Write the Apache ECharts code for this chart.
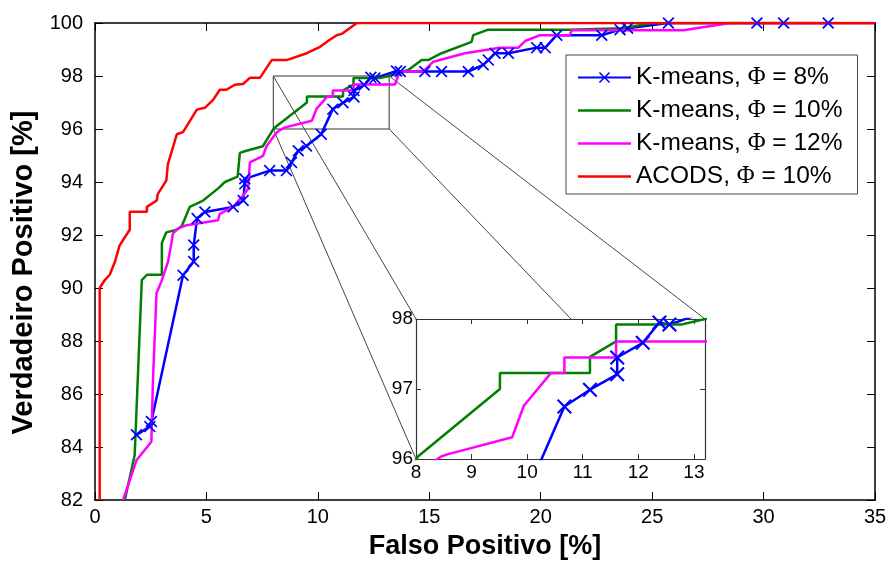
<!DOCTYPE html>
<html>
<head>
<meta charset="utf-8">
<script src="https://cdn.jsdelivr.net/npm/echarts@6/dist/echarts.min.js"></script>
<style>
  html, body { margin: 0; padding: 0; background: #fff; }
  #chart { width: 891px; height: 565px; }
</style>
</head>
<body>
<div id="chart"></div>
<script>
// ROC curves: true positive rate vs false positive rate (%)
const kmeans8FP  = [1.86, 2.46, 2.53, 3.95, 4.43, 4.43, 4.58, 4.93, 6.2, 6.65, 6.72, 6.72, 7.84, 8.59, 8.82, 9.12, 9.49, 10.15, 10.67, 11.13, 11.62, 11.62, 12.08, 12.38, 12.56, 13.53, 13.7, 14.8, 15.55, 16.75, 17.42, 17.65, 17.95, 18.55, 19.82, 20.2, 20.72, 22.74, 23.56, 23.9, 25.73, 29.7, 30.9, 32.9];
const kmeans8VP  = [84.46, 84.77, 84.96, 90.48, 91.0, 91.62, 92.62, 92.87, 93.06, 93.3, 93.93, 94.12, 94.43, 94.43, 94.74, 95.18, 95.36, 95.8, 96.75, 96.99, 97.21, 97.45, 97.66, 97.95, 97.92, 98.19, 98.17, 98.17, 98.17, 98.17, 98.42, 98.6, 98.86, 98.86, 99.07, 99.07, 99.54, 99.54, 99.75, 99.8, 100, 100, 100, 100];

const kmeans10FP = [1.34, 1.78, 2.1, 2.33, 3.0, 3.0, 3.2, 3.67, 3.9, 4.25, 4.85, 5.5, 5.83, 6.4, 6.5, 6.72, 7.53, 8.04, 9.51, 9.51, 11.13, 11.13, 11.6, 11.6, 12.77, 13.2, 14.06, 14.66, 14.95, 15.55, 16.9, 16.97, 17.65, 21.3, 23.7, 25.0, 35];
const kmeans10VP = [82, 83.7, 90.3, 90.5, 90.5, 91.7, 92.1, 92.2, 92.35, 93.06, 93.3, 93.74, 94.0, 94.2, 95.1, 95.16, 95.35, 96.04, 97.0, 97.23, 97.23, 97.46, 97.68, 97.92, 97.92, 98.0, 98.23, 98.6, 98.6, 98.86, 99.29, 99.54, 99.75, 99.75, 99.8, 100, 100];

const kmeans12FP = [1.26, 1.86, 2.53, 2.6, 2.76, 2.98, 3.28, 3.43, 3.5, 3.73, 4.1, 5.52, 5.6, 6.2, 6.65, 6.87, 6.95, 7.54, 7.7, 8.15, 8.46, 8.58, 9.73, 9.94, 10.43, 10.67, 10.67, 11.6, 11.6, 13.46, 13.68, 14.73, 15.18, 16.6, 18.17, 19.0, 19.3, 19.97, 21.3, 21.4, 26.4, 28.5, 35];
const kmeans12VP = [82, 83.5, 84.2, 86.5, 89.8, 90.25, 91.0, 91.7, 92.06, 92.24, 92.37, 92.56, 92.8, 93.06, 93.5, 93.74, 94.74, 94.99, 95.36, 95.87, 96.04, 96.07, 96.31, 96.76, 97.23, 97.23, 97.45, 97.45, 97.68, 97.68, 98.17, 98.17, 98.54, 98.86, 99.07, 99.07, 99.32, 99.54, 99.54, 99.73, 99.73, 100, 100];

const acodsFP = [0.21, 0.21, 0.44, 0.66, 0.9, 1.1, 1.25, 1.56, 1.56, 2.33, 2.33, 2.77, 2.82, 3.2, 3.27, 3.67, 3.95, 4.57, 4.93, 5.3, 5.6, 5.9, 6.27, 6.64, 6.95, 7.4, 7.93, 8.6, 9.5, 10.1, 10.5, 10.85, 11.1, 11.75, 35];
const acodsVP = [82, 90.0, 90.3, 90.5, 91.0, 91.6, 91.8, 92.2, 92.88, 92.88, 93.06, 93.3, 93.55, 94.05, 94.67, 95.8, 95.88, 96.73, 96.8, 97.1, 97.48, 97.48, 97.67, 97.7, 97.93, 97.93, 98.6, 98.6, 98.86, 99.1, 99.35, 99.54, 99.6, 100, 100];

const seriesNames = ['K-means, Φ = 8%', 'K-means, Φ = 10%', 'K-means, Φ = 12%', 'ACODS, Φ = 10%'];

// Axis ranges
const xRange = [0, 35], xStep = 5;
const yRange = [82, 100], yStep = 2;
// Magnified region
const zoomX = [8, 13.2];
const zoomY = [96, 98];

const FONT = 'Liberation Sans, Arial, sans-serif';
const pairs = (xs, ys) => xs.map((x, i) => [x, ys[i]]);
const crossPath = 'path://M1,0 L5,4 L9,0 L10,1 L6,5 L10,9 L9,10 L5,6 L1,10 L0,9 L4,5 L0,1 Z';
const plainLineIcon = 'path://M0,0 L106,0 L106,5 L0,5 Z';

const curves = [
  { name: seriesNames[0], data: pairs(kmeans8FP, kmeans8VP), color: '#0000ff', marker: true },
  { name: seriesNames[1], data: pairs(kmeans10FP, kmeans10VP), color: '#008000' },
  { name: seriesNames[2], data: pairs(kmeans12FP, kmeans12VP), color: '#ff00ff' },
  { name: seriesNames[3], data: pairs(acodsFP, acodsVP), color: '#ff0000' }
];

function curveSeries(c, axisIdx, z, symSize) {
  return {
    type: 'line', name: c.name, data: c.data,
    xAxisIndex: axisIdx, yAxisIndex: axisIdx, z: z,
    showSymbol: !!c.marker, symbol: c.marker ? crossPath : 'none', symbolSize: symSize,
    itemStyle: { color: c.color },
    lineStyle: { color: c.color, width: 2.5 },
    clip: true, animation: false
  };
}

const mainAxisCommon = {
  axisLine: { show: true, onZero: false, lineStyle: { color: '#000', width: 1.5 } },
  axisTick: { show: true, inside: true, length: 8, lineStyle: { color: '#000', width: 1 } },
  splitLine: { show: false }
};
const insetAxisCommon = {
  axisLine: { show: true, onZero: false, lineStyle: { color: '#333', width: 1.2 } },
  axisTick: { show: true, inside: true, length: 5, lineStyle: { color: '#333', width: 1 } },
  splitLine: { show: false },
  z: 6
};

const chart = echarts.init(document.getElementById('chart'), null, { renderer: 'canvas' });

const option = {
  backgroundColor: '#fff',
  animation: false,
  textStyle: { fontFamily: FONT },
  grid: [
    { left: 95, right: 16, top: 23, bottom: 61 },
    { left: 416, top: 319, width: 289, height: 140, show: true, backgroundColor: '#fff', borderWidth: 0, z: 5 }
  ],
  xAxis: [
    Object.assign({ type: 'value', gridIndex: 0, position: 'bottom', min: xRange[0], max: xRange[1], interval: xStep,
      name: 'Falso Positivo [%]', nameLocation: 'middle', nameGap: 33,
      nameTextStyle: { fontSize: 27, fontWeight: 'bold', color: '#000', fontFamily: FONT },
      axisLabel: { fontSize: 20, color: '#000', margin: 7, fontFamily: FONT } }, mainAxisCommon),
    Object.assign({ type: 'value', gridIndex: 1, position: 'bottom', min: zoomX[0], max: zoomX[1], interval: 1,
      axisLabel: { fontSize: 19, color: '#000', margin: 4, showMaxLabel: false, fontFamily: FONT } }, insetAxisCommon),
    Object.assign({ type: 'value', gridIndex: 0, position: 'top', min: xRange[0], max: xRange[1], interval: xStep,
      axisLabel: { show: false } }, mainAxisCommon),
    Object.assign({ type: 'value', gridIndex: 1, position: 'top', min: zoomX[0], max: zoomX[1], interval: 1,
      axisLabel: { show: false } }, insetAxisCommon)
  ],
  yAxis: [
    Object.assign({ type: 'value', gridIndex: 0, position: 'left', min: yRange[0], max: yRange[1], interval: yStep,
      name: 'Verdadeiro Positivo [%]', nameLocation: 'middle', nameGap: 50,
      nameTextStyle: { fontSize: 29, fontWeight: 'bold', color: '#000', fontFamily: FONT, padding: [0, 22, 0, 0] },
      axisLabel: { fontSize: 20, color: '#000', margin: 12, fontFamily: FONT } }, mainAxisCommon),
    Object.assign({ type: 'value', gridIndex: 1, position: 'left', min: zoomY[0], max: zoomY[1], interval: 1,
      axisLabel: { fontSize: 19, color: '#000', margin: 3, fontFamily: FONT } }, insetAxisCommon),
    Object.assign({ type: 'value', gridIndex: 0, position: 'right', min: yRange[0], max: yRange[1], interval: yStep,
      axisLabel: { show: false } }, mainAxisCommon),
    Object.assign({ type: 'value', gridIndex: 1, position: 'right', min: zoomY[0], max: zoomY[1], interval: 1,
      axisLabel: { show: false } }, insetAxisCommon)
  ],
  legend: {
    data: [
      { name: seriesNames[0] },
      { name: seriesNames[1], icon: plainLineIcon },
      { name: seriesNames[2], icon: plainLineIcon },
      { name: seriesNames[3], icon: plainLineIcon }
    ],
    orient: 'vertical',
    left: 566, top: 55,
    padding: [10, 15, 5, 11],
    itemWidth: 53, itemHeight: 14, itemGap: 8,
    backgroundColor: '#fff',
    borderColor: '#444', borderWidth: 1, borderRadius: 0,
    z: 20,
    formatter: n => n.replace('Φ', '{p|Φ}'),
    textStyle: {
      fontSize: 24.5, lineHeight: 24, color: '#000', fontFamily: FONT,
      rich: { p: { fontSize: 24.5, lineHeight: 24, fontFamily: 'Liberation Serif, serif', color: '#000' } }
    }
  },
  series: [
    ...curves.map(c => curveSeries(c, 0, 3, 12)),
    // outline of the magnified region
    {
      type: 'line', name: 'zoom-box', xAxisIndex: 0, yAxisIndex: 0, z: 2,
      data: [[zoomX[0], zoomY[0]], [zoomX[1], zoomY[0]], [zoomX[1], zoomY[1]], [zoomX[0], zoomY[1]], [zoomX[0], zoomY[0]]],
      showSymbol: false, symbol: 'none', silent: true,
      lineStyle: { color: '#333', width: 1 }, animation: false
    },
    ...curves.map(c => curveSeries(c, 1, 7, 15))
  ]
};
chart.setOption(option);

// connector lines from the region outline to the inset corners
const corners = [
  [zoomX[0], zoomY[1]], [zoomX[0], zoomY[0]], [zoomX[1], zoomY[0]], [zoomX[1], zoomY[1]]
];
const connectors = corners.map(pt => {
  const a = chart.convertToPixel({ gridIndex: 0 }, pt);
  const b = chart.convertToPixel({ gridIndex: 1 }, pt);
  return {
    type: 'line', z: 1, silent: true,
    shape: { x1: a[0], y1: a[1], x2: b[0], y2: b[1] },
    style: { stroke: '#444', lineWidth: 1 }
  };
});
chart.setOption({ graphic: connectors });
</script>
</body>
</html>
